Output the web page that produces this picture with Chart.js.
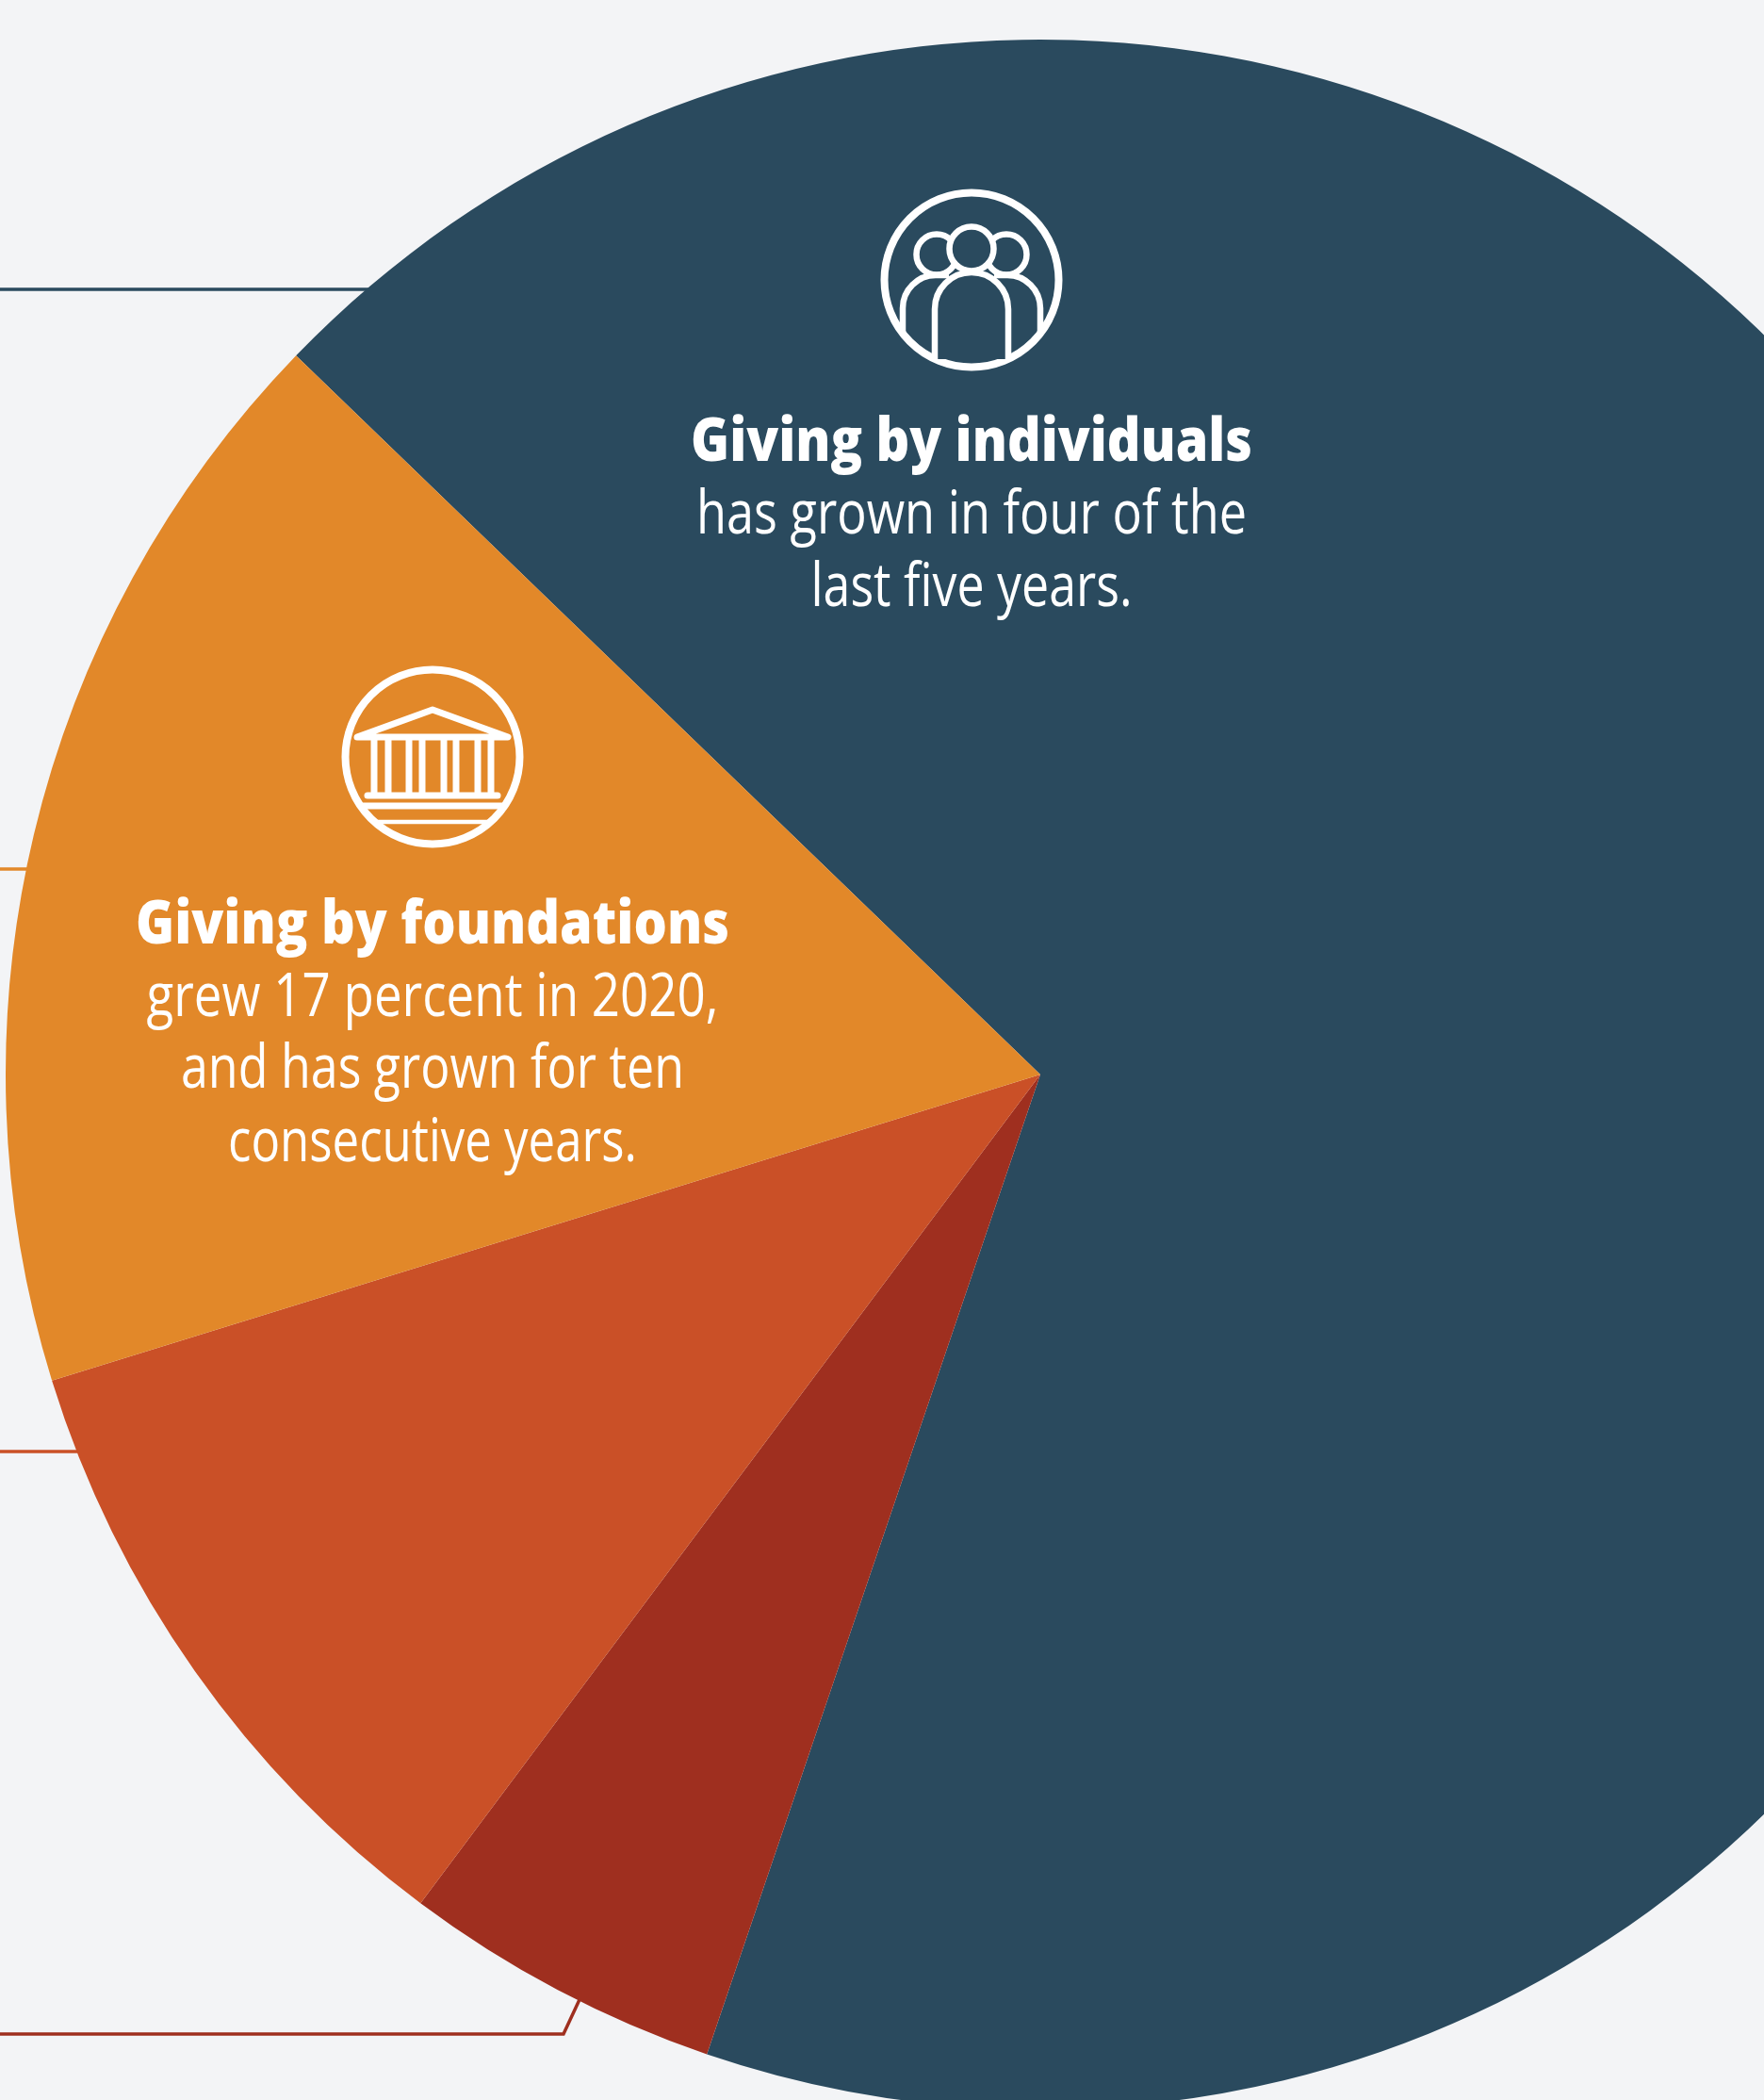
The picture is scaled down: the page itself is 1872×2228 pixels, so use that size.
<!DOCTYPE html>
<html>
<head>
<meta charset="utf-8">
<title>Giving by source</title>
<script src="https://cdn.jsdelivr.net/npm/chart.js@4"></script>
<style>
    html, body { margin: 0; padding: 0; background: #f3f4f6; overflow: hidden; width: 1872px; height: 2228px; }
    #wrap { position: relative; width: 1872px; height: 2228px; overflow: hidden; }
    canvas { position: absolute; left: 0; top: 0; }
</style>
</head>
<body>
<div id="wrap"><canvas id="pie" width="2208" height="2280" style="width:2208px;height:2280px"></canvas></div>
<script>
// Order is clockwise from the top edge of the navy slice
const categories = ['Individuals', 'Corporations', 'Bequests', 'Foundations'];
const shares = [68, 5, 10, 17];
const sliceColors = ['#2a4a5e', '#9f2f1f', '#ca5027', '#e28829'];

const individualsText = ['Giving by individuals', 'has grown in four of the', 'last five years.'];
const foundationsText = ['Giving by foundations', 'grew 17 percent in 2020,', 'and has grown for ten', 'consecutive years.'];

function circle(ctx, x, y, r) {
    ctx.beginPath();
    ctx.arc(x, y, r, 0, Math.PI * 2);
    ctx.stroke();
}

function line(ctx, x1, y1, x2, y2) {
    ctx.beginPath();
    ctx.moveTo(x1, y1);
    ctx.lineTo(x2, y2);
    ctx.stroke();
}

function drawPeople(ctx, cx, cy) {
    ctx.save();
    ctx.translate(cx, cy);
    ctx.strokeStyle = '#fff';
    ctx.lineWidth = 8;
    circle(ctx, 0, 0, 92.5);
    ctx.lineWidth = 6.5;
    // side heads first, the middle one sits on top of them
    circle(ctx, -37, -27, 21.5);
    circle(ctx, 37, -27, 21.5);
    ctx.fillStyle = sliceColors[0];
    ctx.beginPath();
    ctx.arc(0, -33, 23.5, 0, Math.PI * 2);
    ctx.fill();
    ctx.stroke();
    // side bodies
    ctx.beginPath();
    ctx.moveTo(-73, 57);
    ctx.lineTo(-73, 30);
    ctx.arc(-38, 30, 35, Math.PI, Math.PI * 1.5);
    ctx.lineTo(-24, -5);
    ctx.stroke();
    ctx.beginPath();
    ctx.moveTo(73, 57);
    ctx.lineTo(73, 30);
    ctx.arc(38, 30, 35, 0, Math.PI * 1.5, true);
    ctx.lineTo(24, -5);
    ctx.stroke();
    // middle body
    ctx.beginPath();
    ctx.moveTo(-39, 84);
    ctx.lineTo(-39, 31);
    ctx.arc(0, 31, 39, Math.PI, 0);
    ctx.lineTo(39, 84);
    ctx.fill();
    ctx.stroke();
    ctx.restore();
}

function drawBuilding(ctx, cx, cy) {
    ctx.save();
    ctx.translate(cx, cy);
    ctx.strokeStyle = '#fff';
    ctx.lineWidth = 8;
    circle(ctx, 0, 0, 92.5);
    ctx.lineWidth = 7;
    ctx.lineCap = 'round';
    // roof
    ctx.beginPath();
    ctx.moveTo(-80, -21);
    ctx.lineTo(0, -50);
    ctx.lineTo(80, -21);
    ctx.closePath();
    ctx.lineJoin = 'round';
    ctx.stroke();
    line(ctx, -69, 41, 69, 41);
    ctx.lineCap = 'butt';
    [-62, -47, -25, -11, 12, 25, 48, 62].forEach(function (x) {
        line(ctx, x, -21, x, 41);
    });
    // steps
    line(ctx, -76, 52, 76, 52);
    ctx.lineWidth = 4.5;
    line(ctx, -61, 69, 61, 69);
    ctx.restore();
}

function drawCaption(ctx, lines, x, baselines, widths) {
    ctx.save();
    ctx.fillStyle = '#fff';
    ctx.textAlign = 'center';
    ctx.textBaseline = 'alphabetic';
    lines.forEach(function (text, i) {
        ctx.font = (i === 0 ? '800 ' : '') + '64px "Open Sans"';
        ctx.fillText(text, x, baselines[i], widths[i]);
    });
    ctx.restore();
}

// Leader lines sit behind the pie
const leaderLines = {
    id: 'leaderLines',
    beforeDatasetsDraw(chart) {
        const ctx = chart.ctx;
        ctx.save();
        ctx.lineWidth = 3.5;
        ctx.strokeStyle = sliceColors[0];
        line(ctx, 0, 307, 420, 307);
        ctx.strokeStyle = sliceColors[3];
        line(ctx, 0, 922, 40, 922);
        ctx.strokeStyle = sliceColors[2];
        line(ctx, 0, 1540, 100, 1540);
        ctx.strokeStyle = sliceColors[1];
        ctx.beginPath();
        ctx.moveTo(0, 2158);
        ctx.lineTo(598, 2158);
        ctx.lineTo(625, 2100);
        ctx.stroke();
        ctx.restore();
    }
};

const annotations = {
    id: 'annotations',
    afterDatasetsDraw(chart) {
        const ctx = chart.ctx;
        drawPeople(ctx, 1031, 297);
        drawBuilding(ctx, 459, 803);
        drawCaption(ctx, individualsText, 1031, [489, 566, 643], [596, 584, 341]);
        drawCaption(ctx, foundationsText, 459, [1001, 1078, 1154, 1232], [630, 607, 534, 434]);
    }
};

new Chart(document.getElementById('pie').getContext('2d'), {
    type: 'pie',
    data: {
        labels: categories,
        datasets: [{
            data: shares,
            backgroundColor: sliceColors,
            borderWidth: 0
        }]
    },
    options: {
        responsive: false,
        animation: false,
        devicePixelRatio: 1,
        rotation: 314.0,
        layout: { padding: { left: 6, right: 6, top: 42, bottom: 42 } },
        plugins: {
            legend: { display: false },
            tooltip: { enabled: false }
        }
    },
    plugins: [leaderLines, annotations]
});
</script>
</body>
</html>
